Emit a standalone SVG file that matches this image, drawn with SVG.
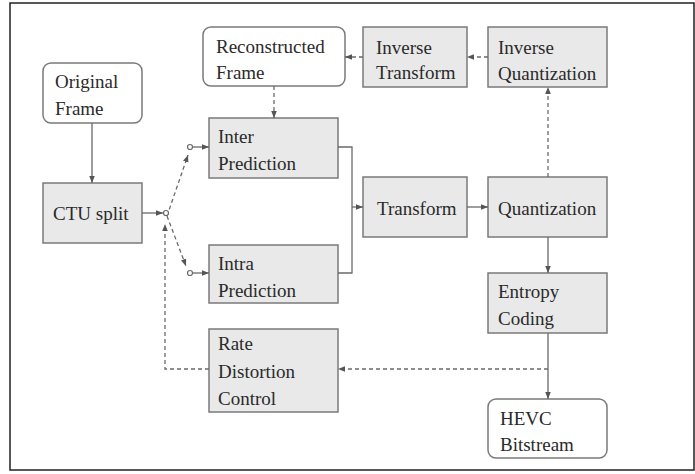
<svg xmlns="http://www.w3.org/2000/svg" width="695" height="474" viewBox="0 0 695 474">
<style>
.frame{fill:#fff;stroke:#222;stroke-width:1.5}
.box{fill:#e9e9e9;stroke:#7a7a7a;stroke-width:1.5}
.rbox{fill:#fff;stroke:#7a7a7a;stroke-width:1.5}
text{font-family:'Liberation Serif','Times New Roman',Times,'DejaVu Serif',serif;font-size:19px;fill:#2a2a2a}
.c{fill:none;stroke:#6a6a6a;stroke-width:1.3}
.d{stroke-dasharray:4 3}
.dot{fill:#fff;stroke:#6a6a6a;stroke-width:1.2}
</style>
<defs>
<marker id="a" viewBox="0 0 10 10" refX="10" refY="5" markerWidth="7" markerHeight="7" orient="auto" markerUnits="userSpaceOnUse">
<path d="M0,1 L10,5 L0,9 Z" fill="#555"/>
</marker>
</defs>
<rect class="frame" x="10" y="3" width="684" height="467"/>
<g id="original"><rect class="rbox" x="43" y="63" width="99" height="60" rx="8"/><text x="55" y="88">Original</text><text x="55" y="115">Frame</text></g>
<g id="ctu"><rect class="box" x="43" y="183" width="99" height="60"/><text x="53" y="220">CTU split</text></g>
<g id="recon"><rect class="rbox" x="203" y="27" width="142" height="59" rx="8"/><text x="216" y="53">Reconstructed</text><text x="216" y="79">Frame</text></g>
<g id="inter"><rect class="box" x="209" y="118" width="129" height="60"/><text x="218" y="143">Inter</text><text x="218" y="170">Prediction</text></g>
<g id="intra"><rect class="box" x="209" y="245" width="129" height="58"/><text x="218" y="270">Intra</text><text x="218" y="297">Prediction</text></g>
<g id="rdc"><rect class="box" x="209" y="329" width="129" height="83"/><text x="218" y="350">Rate</text><text x="218" y="378">Distortion</text><text x="218" y="405">Control</text></g>
<g id="invt"><rect class="box" x="363" y="27" width="104" height="60"/><text x="376" y="54">Inverse</text><text x="376" y="79">Transform</text></g>
<g id="invq"><rect class="box" x="488" y="27" width="119" height="60"/><text x="498" y="54">Inverse</text><text x="498" y="80">Quantization</text></g>
<g id="transform"><rect class="box" x="363" y="177" width="104" height="60"/><text x="377" y="215">Transform</text></g>
<g id="quant"><rect class="box" x="488" y="177" width="119" height="60"/><text x="498" y="215">Quantization</text></g>
<g id="entropy"><rect class="box" x="488" y="273" width="119" height="60"/><text x="498" y="298">Entropy</text><text x="498" y="325">Coding</text></g>
<g id="hevc"><rect class="rbox" x="488" y="399" width="119" height="59" rx="8"/><text x="500" y="425">HEVC</text><text x="500" y="451">Bitstream</text></g>
<g id="connectors">
<path class="c" d="M92,123 V183" marker-end="url(#a)"/>
<path class="c" d="M142,213 H163" marker-end="url(#a)"/>
<path class="c d" d="M167,216 L188,155" marker-end="url(#a)"/>
<path class="c d" d="M167,216 L186,266" marker-end="url(#a)"/>
<circle class="dot" cx="166" cy="213" r="2.5"/>
<circle class="dot" cx="190" cy="147" r="2.5"/>
<circle class="dot" cx="190" cy="273" r="2.5"/>
<path class="c" d="M193,147 H209" marker-end="url(#a)"/>
<path class="c" d="M193,273 H209" marker-end="url(#a)"/>
<path class="c d" d="M209,369 H165 V224" marker-end="url(#a)"/>
<path class="c" d="M338,147 H352 V273 H338"/>
<path class="c" d="M352,207 H363" marker-end="url(#a)"/>
<path class="c" d="M467,207 H488" marker-end="url(#a)"/>
<path class="c d" d="M548,177 V87" marker-end="url(#a)"/>
<path class="c d" d="M488,57 H467" marker-end="url(#a)"/>
<path class="c d" d="M363,57 H345" marker-end="url(#a)"/>
<path class="c d" d="M274,86 V118" marker-end="url(#a)"/>
<path class="c" d="M548,237 V273" marker-end="url(#a)"/>
<path class="c" d="M548,333 V399" marker-end="url(#a)"/>
<path class="c d" d="M548,369 H338" marker-end="url(#a)"/>
</g>
</svg>
